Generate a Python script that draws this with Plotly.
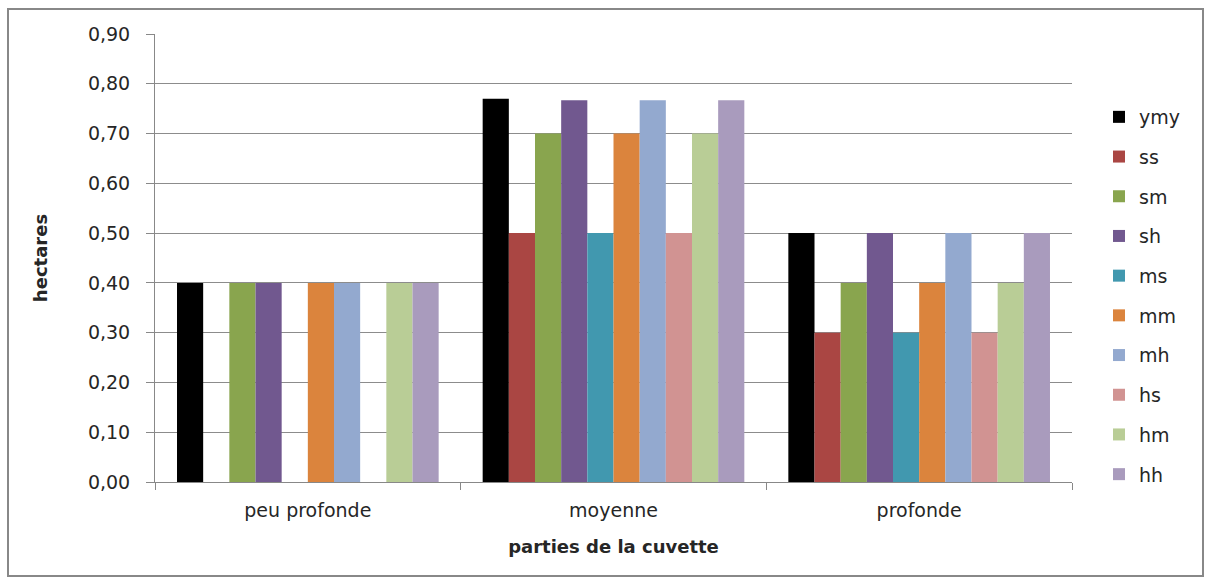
import plotly.graph_objects as go

categories = ["peu profonde", "moyenne", "profonde"]
series_names = ["ymy", "ss", "sm", "sh", "ms", "mm", "mh", "hs", "hm", "hh"]
ymy = [0.40, 0.77, 0.50]
ss = [0.0, 0.50, 0.30]
sm = [0.40, 0.70, 0.40]
sh = [0.40, 0.767, 0.50]
ms = [0.0, 0.50, 0.30]
mm = [0.40, 0.70, 0.40]
mh = [0.40, 0.767, 0.50]
hs = [0.0, 0.50, 0.30]
hm = [0.40, 0.70, 0.40]
hh = [0.40, 0.767, 0.50]
values = [ymy, ss, sm, sh, ms, mm, mh, hs, hm, hh]
colors = ["#000000", "#AA4643", "#89A54E", "#71588F", "#4198AF",
          "#DB843D", "#93A9CF", "#D19392", "#B9CD96", "#A99BBD"]

font = "'DejaVu Sans', sans-serif"
L, R, T, B = 155, 134, 34, 97
W, H = 1206, 579
pw, ph = W - L - R, H - T - B

def px_x(p):
    return (p - L) / pw

def px_y(p):
    return (H - B - p) / ph

fig = go.Figure()
for name, vals, c in zip(series_names, values, colors):
    fig.add_trace(go.Bar(x=categories, y=vals, name=name, marker_color=c,
                         marker_line_width=0, legendgroup=name))

fig.update_layout(
    width=W, height=H,
    barmode="group", bargap=0.144, bargroupgap=0,
    plot_bgcolor="white", paper_bgcolor="white",
    margin=dict(l=L, r=R, t=T, b=B, autoexpand=False),
    separators=", ",
    font=dict(family=font, size=19, color="#262626"),
    legend=dict(x=px_x(1099), y=px_y(98), xanchor="left", yanchor="top",
                font=dict(size=19, color="#262626"), tracegroupgap=12,
                itemwidth=30),
    xaxis=dict(title=dict(text="<b>parties de la cuvette</b>", font=dict(size=18), standoff=20),
               showline=True, linecolor="#888888", linewidth=1,
               ticks="outside", tickson="boundaries", ticklen=7, tickcolor="#888888",
               ticklabelstandoff=11,
               tickfont=dict(size=19)),
    yaxis=dict(title=dict(text="<b>hectares</b>", font=dict(size=18), standoff=35),
               range=[0, 0.9], dtick=0.1, tickformat=".2f",
               showgrid=True, gridcolor="#8c8c8c", gridwidth=1,
               showline=True, linecolor="#888888", linewidth=1,
               ticks="outside", ticklen=8, tickcolor="#888888",
               ticklabelstandoff=12,
               tickfont=dict(size=19), zeroline=False),
    shapes=[dict(type="rect", xref="paper", yref="paper",
                 x0=px_x(8), x1=px_x(1203),
                 y0=px_y(576), y1=px_y(9),
                 line=dict(color="#888888", width=2), fillcolor="rgba(0,0,0,0)",
                 layer="below")],
)

fig.write_html("out.html", config={"displayModeBar": False},
               post_script="document.body.style.margin='0px';document.body.style.overflow='hidden';")
